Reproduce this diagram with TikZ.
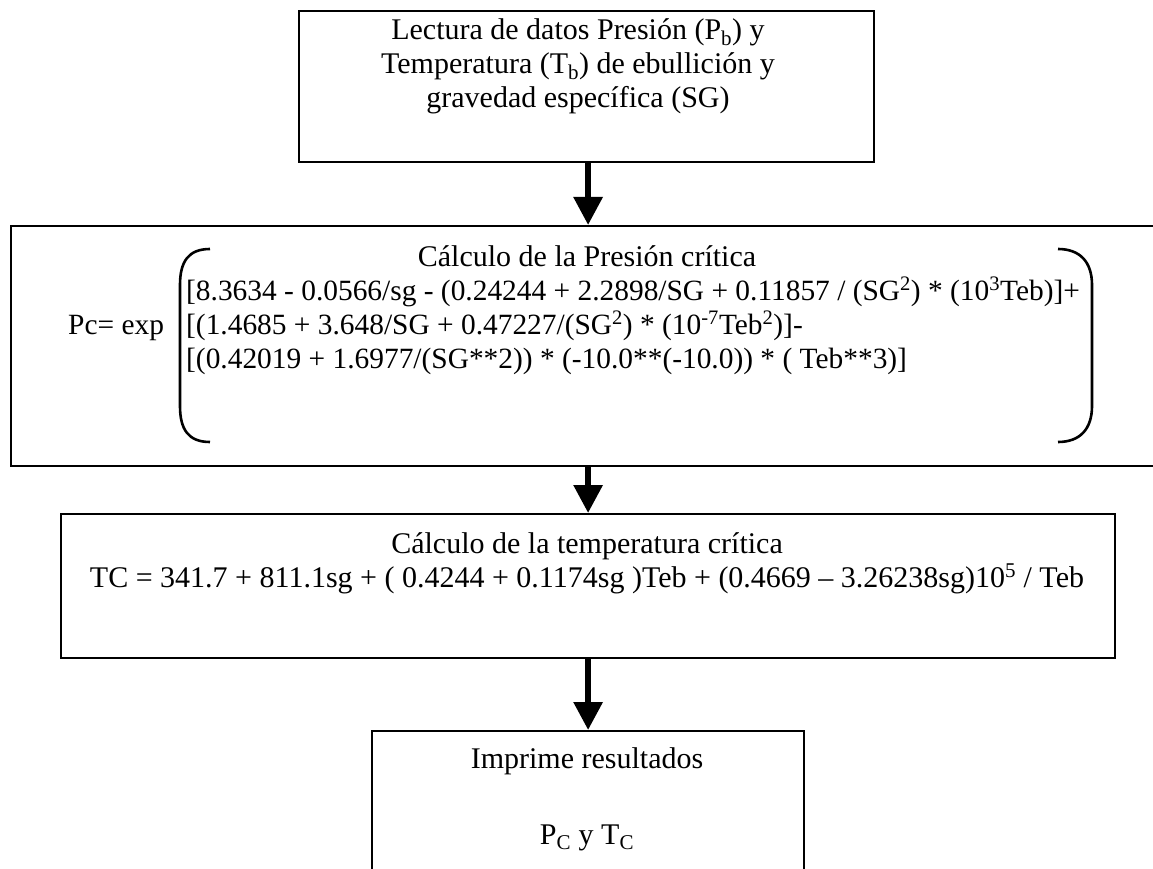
\documentclass[tikz,border=0pt]{standalone}
\usepackage{fontspec}
\setmainfont{Liberation Serif}
\usetikzlibrary{arrows.meta}
\begin{document}
\begin{tikzpicture}[x=1pt,y=-1pt,
  box/.style={draw,line width=2.2pt,rectangle,inner sep=0pt,anchor=north west},
  txt/.style={inner sep=0pt,anchor=base,font=\fontsize{30}{34}\selectfont},
  ltxt/.style={inner sep=0pt,anchor=base west,font=\fontsize{29.4}{34}\selectfont},
  flow/.style={line width=6pt,-{Triangle[width=28pt,length=28pt]}},
  paren/.style={line width=2.6pt}]
\useasboundingbox (0,0) rectangle (1153,869);
\clip (0,0) rectangle (1153,869);

% process boxes
\node[box,minimum width=575pt,minimum height=151pt] (b1) at (298,10) {};
\node[box,minimum width=1154pt,minimum height=240pt] (b2) at (10,225) {};
\node[box,minimum width=1054pt,minimum height=144pt] (b3) at (60,513) {};
\node[box,minimum width=432pt,minimum height=200pt] (b4) at (371,730) {};

% input data
\node[txt] (t11) at (578,40) {Lectura de datos Presión (P\textsubscript{b}) y};
\node[txt] (t12) at (578,74) {Temperatura (T\textsubscript{b}) de ebullición y};
\node[txt] (t13) at (578,108) {gravedad específica (SG)};

% critical pressure
\node[txt] (t21) at (587,266) {Cálculo de la Presión crítica};
\node[ltxt] (t22) at (186,300) {[8.3634 - 0.0566/sg - (0.24244 + 2.2898/SG + 0.11857 / (SG\textsuperscript{2}) * (10\textsuperscript{3}Teb)]+};
\node[ltxt] (t23) at (186,334) {[(1.4685 + 3.648/SG + 0.47227/(SG\textsuperscript{2}) * (10\textsuperscript{-7}Teb\textsuperscript{2})]-};
\node[ltxt] (t24) at (186,368) {[(0.42019 + 1.6977/(SG**2)) * (-10.0**(-10.0)) * ( Teb**3)]};
\node[ltxt] (pc) at (68,334) {Pc= exp};
\draw[paren] (210,249) .. controls (188,249) and (180,262) .. (180,285) -- (180,406)
  .. controls (180,429) and (188,442) .. (210,442);
\draw[paren] (1058,249) .. controls (1080,249) and (1092,262) .. (1092,285) -- (1092,406)
  .. controls (1092,429) and (1080,442) .. (1058,442);

% critical temperature
\node[txt] (t31) at (587,553) {Cálculo de la temperatura crítica};
\node[txt] (t32) at (587,587) {TC = 341.7 + 811.1sg + ( 0.4244 + 0.1174sg )Teb + (0.4669 – 3.26238sg)10\textsuperscript{5} / Teb};

% results
\node[txt] (t41) at (587,768) {Imprime resultados};
\node[txt] (t42) at (587,844) {P\textsubscript{C} y T\textsubscript{C}};

% flow arrows
\draw[flow] (b1.south -| b2.north) -- (b2.north);
\draw[flow] (b2.south) -- (b3.north);
\draw[flow] (b3.south) -- (b4.north);
\end{tikzpicture}
\end{document}
